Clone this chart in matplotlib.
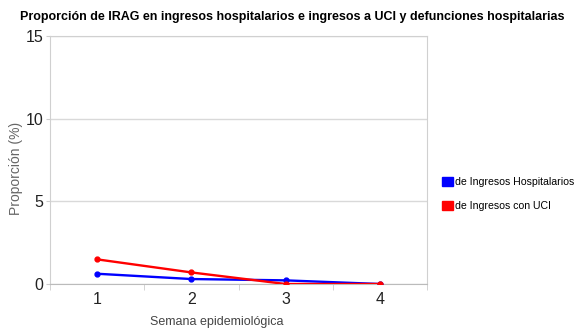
import matplotlib.pyplot as plt
from matplotlib.patches import Patch

plt.rcParams['font.family'] = ['Liberation Sans', 'DejaVu Sans']

semanas = [1, 2, 3, 4]
hospitalarios = [0.62, 0.30, 0.22, 0.0]
uci = [1.49, 0.70, 0.0, 0.0]
y_ticks = [0, 5, 10, 15]

fig = plt.figure(figsize=(5.74, 3.31), dpi=100)
ax = fig.add_axes([50 / 574, 1 - 284 / 331, 377 / 574, 248 / 331])

ax.plot(semanas, hospitalarios, color='#0000ff', lw=1.7, marker='o', ms=3.5, zorder=3)
ax.plot(semanas, uci, color='#ff0000', lw=1.7, marker='o', ms=3.5, zorder=4)

ax.set_xlim(0.5, 4.5)
ax.set_ylim(0, 15)
ax.set_yticks(y_ticks)
ax.set_xticks(semanas)
ax.set_xticks([0.5, 1.5, 2.5, 3.5, 4.5], minor=True)
ax.tick_params(axis='x', which='major', length=0, labelsize=11.5, pad=6, colors='#222222')
ax.tick_params(axis='x', which='minor', length=4, color='#cccccc', direction='out')
ax.tick_params(axis='y', length=3, color='#cccccc', labelsize=11.5, colors='#222222', pad=2)
ax.grid(axis='y', color='#d9d9d9', lw=1)
for s in ax.spines.values():
    s.set_color('#d0d0d0')
ax.spines['bottom'].set_color('#bbbbbb')

ax.set_xlabel('Semana epidemiológica', fontsize=9, color='#444444')
ax.xaxis.set_label_coords(0.443, -32 / 248)
ax.set_ylabel('Proporción (%)', fontsize=10, color='#666666')
ax.yaxis.set_label_coords(-27 / 377, 0.464)

fig.text(292 / 574, 1 - 17 / 331, 'Proporción de IRAG en ingresos hospitalarios e ingresos a UCI y defunciones hospitalarias',
         ha='center', va='center', fontsize=9.0, fontweight='bold')

handles = [Patch(color='#0000ff'), Patch(color='#ff0000')]
fig.legend(handles, ['de Ingresos Hospitalarios', 'de Ingresos con UCI'],
           loc='center left', bbox_to_anchor=(442 / 574, 1 - 194 / 331),
           frameon=False, fontsize=7.6, handlelength=1.0, handleheight=1.0,
           handletextpad=0.2, labelspacing=1.3, borderpad=0, borderaxespad=0)

fig.savefig('out.png', dpi=100)
